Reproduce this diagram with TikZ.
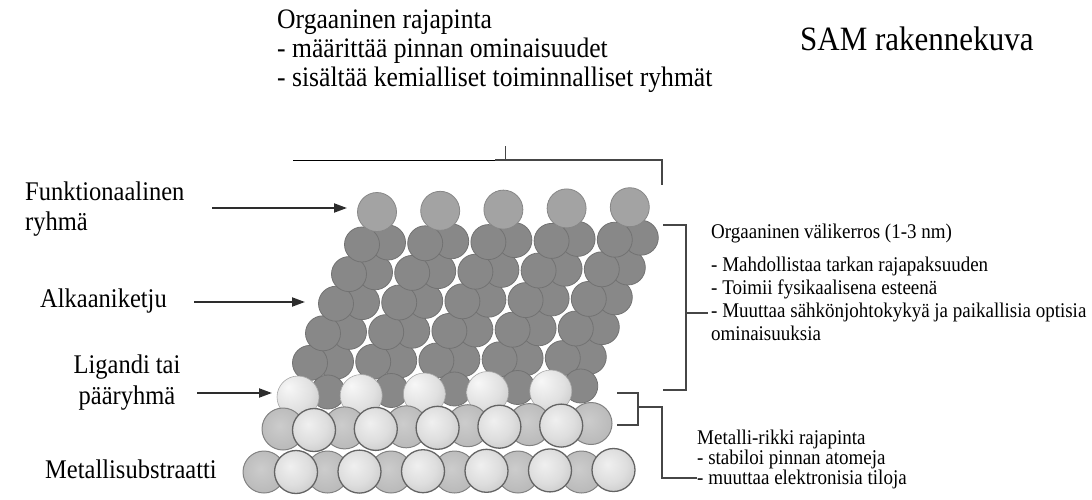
\documentclass[tikz,border=0pt]{standalone}
\usepackage{fontspec}
\setmainfont{Liberation Serif}
\usetikzlibrary{arrows.meta}

\definecolor{chaingray}{RGB}{136,136,136}
\definecolor{chainedge}{RGB}{114,114,114}
\definecolor{headgray}{RGB}{163,163,163}
\definecolor{headedge}{RGB}{135,135,135}
\definecolor{bracketgray}{RGB}{70,70,70}
\definecolor{arrowgray}{RGB}{45,45,45}
\definecolor{subedge}{RGB}{100,100,100}
\definecolor{backedge}{RGB}{130,130,130}

% text is set slightly taller than the font's natural shape
\newcommand{\tallertext}[1]{\scalebox{1}[1.1]{#1}}

% sphere shadings: highlight towards the upper left, colour reaching the rim
\pgfdeclareradialshading{substratefront}{\pgfpoint{-7bp}{7bp}}{%
  color(0bp)=(white!94!black); color(20bp)=(white!87!black); color(42bp)=(white!74!black); color(70bp)=(white!60!black)}
\pgfdeclareradialshading{substrateback}{\pgfpoint{-4bp}{4bp}}{%
  color(0bp)=(white!80!black); color(30bp)=(white!72!black); color(60bp)=(white!58!black)}
\pgfdeclareradialshading{ligandshade}{\pgfpoint{-12bp}{12bp}}{%
  color(0bp)=(white!97!black); color(24bp)=(white!88!black); color(48bp)=(white!72!black); color(72bp)=(white!60!black)}

\tikzset{
  txt/.style={inner sep=0pt, anchor=base west},
  toptext/.style={txt, font=\fontsize{25.6}{29}\selectfont},
  titletext/.style={txt, font=\fontsize{31}{34}\selectfont},
  lefttext/.style={txt, font=\fontsize{24.5}{28}\selectfont},
  righttext/.style={txt, font=\fontsize{19}{22}\selectfont},
  chainatom/.style={fill=chaingray, draw=chainedge, line width=0.8pt},
  headatom/.style={fill=headgray, draw=headedge, line width=0.8pt},
  ligandatom/.style={shading=ligandshade, draw=white!66!black, line width=0.6pt},
  subfront/.style={shading=substratefront, draw=subedge, line width=1.3pt},
  subback/.style={shading=substrateback, draw=backedge, line width=1pt},
  bracket/.style={draw=bracketgray, line width=1.8pt},
  pointer/.style={draw=arrowgray, line width=2pt, -{Triangle[length=13pt,width=9pt]}},
}

\begin{document}
\begin{tikzpicture}[x=1pt, y=-1pt]
\useasboundingbox (0,0) rectangle (1092,499);

% ---------- headings ----------
\node[toptext] (orgtitle) at (277,28) {\tallertext{Orgaaninen rajapinta}};
\node[toptext] (orgline1) at (277,57) {\tallertext{- määrittää pinnan ominaisuudet}};
\node[toptext] (orgline2) at (277,86) {\tallertext{- sisältää kemialliset toiminnalliset ryhmät}};
\node[titletext] (title) at (800,50) {\tallertext{SAM rakennekuva}};

% ---------- alkane chains with head groups ----------
\foreach \k in {0,...,4}{
  \pgfmathsetmacro{\dx}{63.2*\k}
  \pgfmathsetmacro{\dy}{-1.2*\k}
  \foreach \j in {4,3,2,1,0}{
    \filldraw[chainatom] ({388-13*\j+\dx},{242.5+29.8*\j+\dy}) circle (17.5);
    \filldraw[chainatom] ({362-13*\j+\dx},{244.5+29.6*\j+\dy}) circle (17.5);
  }
  \filldraw[headatom] ({377+\dx},{212+\dy}) circle (19.5);
}

% ---------- anchoring groups ----------
\foreach \k in {0,...,4}{
  \filldraw[chainatom] ({328+63.2*\k},{392-1.5*\k}) circle (17);
}
\foreach \k in {0,...,4}{
  \shadedraw[ligandatom] ({298+63.2*\k},{397-1.5*\k}) circle (21);
}

% ---------- metal substrate ----------
\foreach \k in {0,...,5}{
  \shadedraw[subback] ({283+61.6*\k},{429-1.1*\k}) circle (21);
}
\foreach \k in {0,...,4}{
  \shadedraw[subfront] ({314+61.8*\k},{430-1.1*\k}) circle (21.5);
}
\foreach \k in {0,...,5}{
  \shadedraw[subback] ({264+63.5*\k},472) circle (21);
}
\foreach \k in {0,...,5}{
  \shadedraw[subfront] ({296+63.5*\k},{472-0.4*\k}) circle (21.5);
}

% ---------- left labels and pointers ----------
\node[lefttext] (funk1) at (25,200) {\tallertext{Funktionaalinen}};
\node[lefttext] (funk2) at (25,230) {\tallertext{ryhmä}};
\node[lefttext] (alk) at (40,307) {\tallertext{Alkaaniketju}};
\node[lefttext, anchor=base] (lig1) at (127,373) {\tallertext{Ligandi tai}};
\node[lefttext, anchor=base] (lig2) at (127,404) {\tallertext{pääryhmä}};
\node[lefttext] (metsub) at (45,478) {\tallertext{Metallisubstraatti}};

\coordinate (p1s) at (212,208);  \coordinate (p1e) at (347,208);
\coordinate (p2s) at (194,302);  \coordinate (p2e) at (305,302);
\coordinate (p3s) at (197,393);  \coordinate (p3e) at (272,393);
\draw[pointer] (p1s) -- (p1e);
\draw[pointer] (p2s) -- (p2e);
\draw[pointer] (p3s) -- (p3e);

% ---------- bracket of the organic surface ----------
\coordinate (tl) at (293,160);
\coordinate (tm) at (495,160);
\coordinate (tr) at (662,160);
\coordinate (trb) at (662,185);
\coordinate (ttick) at (505,146);
\coordinate (ttickb) at (505,160);
\draw[black, line width=1pt] (tl) -- (tm);
\draw[bracket] (tm) -- (tr) -- (trb);
\draw[bracket, line width=1pt] (ttick) -- (ttickb);

% ---------- bracket of the organic interlayer ----------
\coordinate (ob1) at (663,225);
\coordinate (ob2) at (686,225);
\coordinate (ob3) at (686,390);
\coordinate (ob4) at (663,390);
\coordinate (obm) at (686,313);
\coordinate (obt) at (708,313);
\draw[bracket] (ob1) -- (ob2) -- (ob3) -- (ob4);
\draw[bracket] (obm) -- (obt);

\node[righttext] (mid0) at (711,238) {\tallertext{Orgaaninen välikerros (1-3 nm)}};
\node[righttext] (mid1) at (711,271) {\tallertext{- Mahdollistaa tarkan rajapaksuuden}};
\node[righttext] (mid2) at (711,294) {\tallertext{- Toimii fysikaalisena esteenä}};
\node[righttext] (mid3) at (711,317) {\tallertext{- Muuttaa sähkönjohtokykyä ja paikallisia optisia}};
\node[righttext] (mid4) at (711,340) {\tallertext{ominaisuuksia}};

% ---------- bracket of the metal-sulfur interface ----------
\coordinate (mb1) at (617,393);
\coordinate (mb2) at (638,393);
\coordinate (mb3) at (638,425);
\coordinate (mb4) at (617,425);
\coordinate (mbm) at (638,407);
\coordinate (mbk) at (662,407);
\coordinate (mbl) at (662,478);
\coordinate (mbe) at (697,478);
\draw[bracket] (mb1) -- (mb2) -- (mb3) -- (mb4);
\draw[bracket] (mbm) -- (mbk) -- (mbl) -- (mbe);

\node[righttext] (bot0) at (697,444) {\tallertext{Metalli-rikki rajapinta}};
\node[righttext] (bot1) at (697,464) {\tallertext{- stabiloi pinnan atomeja}};
\node[righttext] (bot2) at (697,484) {\tallertext{- muuttaa elektronisia tiloja}};
\end{tikzpicture}
\end{document}
